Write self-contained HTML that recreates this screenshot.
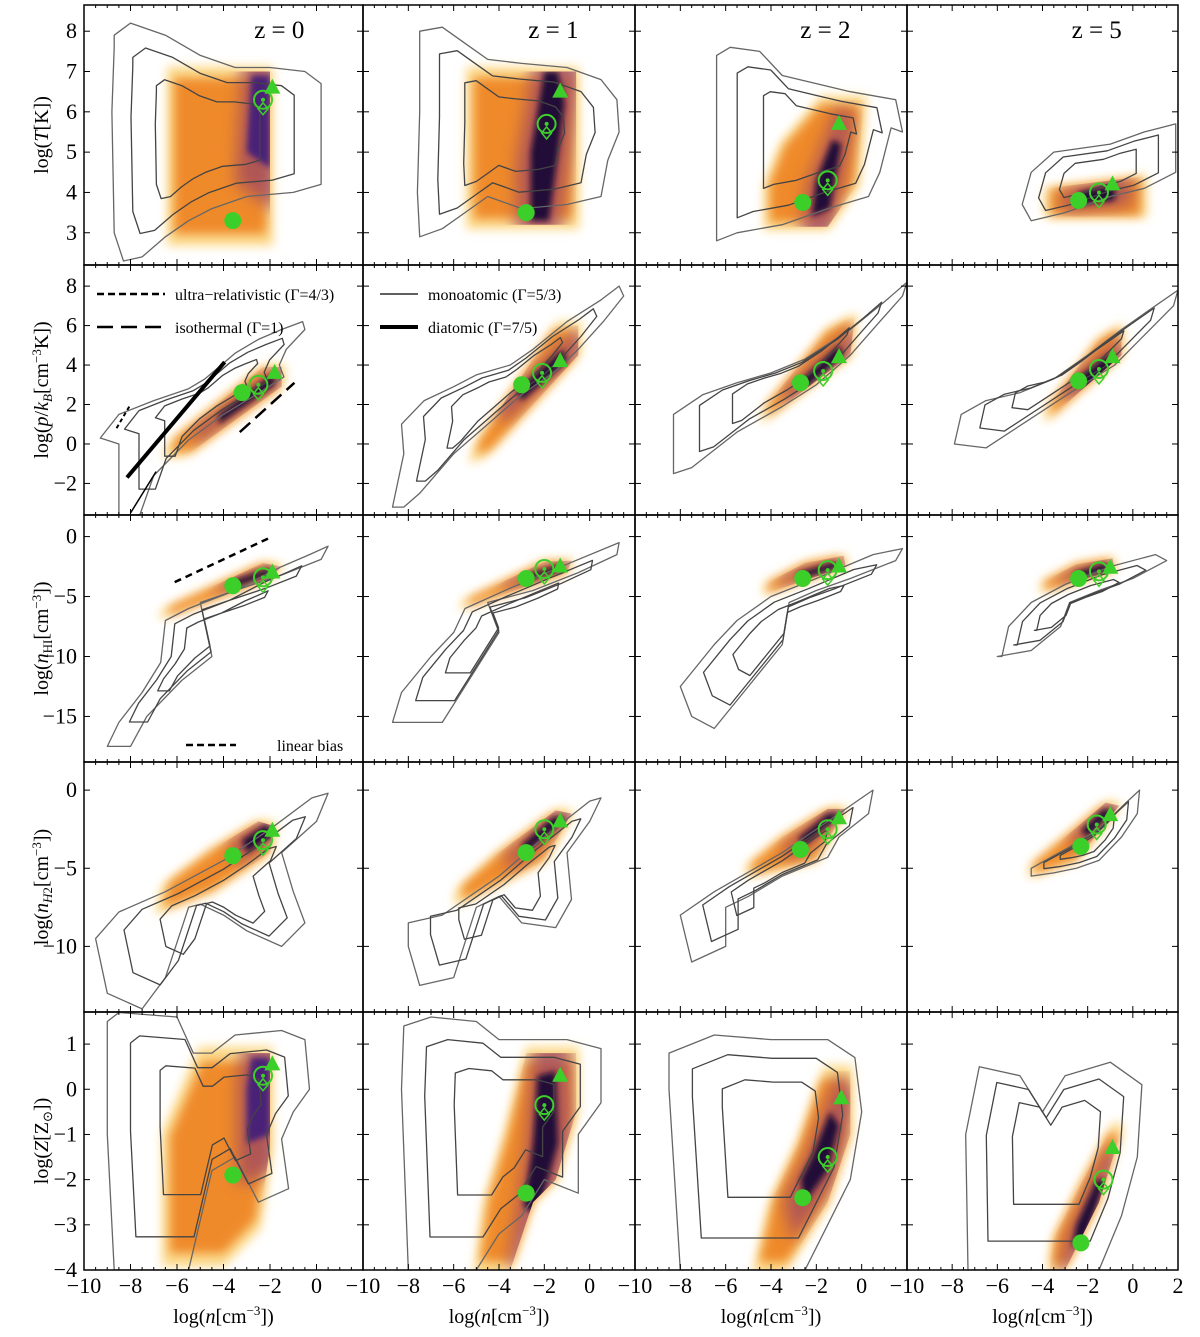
<!DOCTYPE html>
<html><head><meta charset="utf-8">
<style>
html,body{margin:0;padding:0;background:#fff;}
svg{display:block;font-family:"Liberation Serif",serif;}
</style></head>
<body>
<svg id="fig" width="1200" height="1337" viewBox="0 0 1200 1337" xmlns="http://www.w3.org/2000/svg">
<defs>
<filter id="b2" x="-30%" y="-30%" width="160%" height="160%"><feGaussianBlur stdDeviation="3"/></filter>
<filter id="b5" x="-30%" y="-30%" width="160%" height="160%"><feGaussianBlur stdDeviation="5"/></filter>
<filter id="b7" x="-50%" y="-50%" width="200%" height="200%"><feGaussianBlur stdDeviation="8"/></filter>
</defs>
<g id="layer"></g>
</svg>
<script>
// ---- axes ----
const colLeft=[84,363,635,907,1178];
const rowTop=[5,265,515,762,1012,1270];
const yTopVal=[8.65,9.07,1.8,1.8,1.71];
const yBotVal=[2.2,-3.6,-18.8,-14.2,-4];
const xMin=-10,xMax=2;
const yTicks=[[3,4,5,6,7,8],[-2,0,2,4,6,8],[0,-5,-10,-15],[0,-5,-10],[-4,-3,-2,-1,0,1]];
const xTicks=[-10,-8,-6,-4,-2,0,2];
const zLabels=["z = 0","z = 1","z = 2","z = 5"];
const yTitles=["log(<tspan font-style='italic'>T</tspan>[K])",
"log(<tspan font-style='italic'>p</tspan>/<tspan font-style='italic'>k</tspan><tspan font-size='13' dy='4'><tspan font-style='italic'>B</tspan></tspan><tspan dy='-4'>[cm</tspan><tspan font-size='13' dy='-7'>−3</tspan><tspan dy='7'>K])</tspan>",
"log(<tspan font-style='italic'>n</tspan><tspan font-size='13' dy='4'>HI</tspan><tspan dy='-4'>[cm</tspan><tspan font-size='13' dy='-7'>−3</tspan><tspan dy='7'>])</tspan>",
"log(<tspan font-style='italic'>n</tspan><tspan font-size='13' dy='4'><tspan font-style='italic'>H</tspan>2</tspan><tspan dy='-4'>[cm</tspan><tspan font-size='13' dy='-7'>−3</tspan><tspan dy='7'>])</tspan>",
"log(<tspan font-style='italic'>Z</tspan>[Z<tspan font-size='13' dy='4'>⊙</tspan><tspan dy='-4'>])</tspan>"];

// ---- contour data (outer level), per row/col, [x,y,...] ----
const contours=[
[[-8.7,7.9,-8,8.2,-6.5,7.9,-5,7.4,-3.5,7.1,-2,7.1,-0.5,7.0,0.2,6.7,0.2,4.2,-1,4.0,-3,3.9,-4.5,3.6,-5.5,3.3,-6.5,2.9,-7.5,2.4,-8.3,2.3,-8.7,3,-8.8,6,-8.7,7.6],
 [-7.5,8.0,-6.5,8.1,-5.5,7.7,-4.5,7.3,-3,7.2,-1,7.1,0.5,6.8,1.2,6.3,1.3,5.5,0.8,4.8,0.5,3.9,-1,3.7,-3,3.6,-4.5,3.9,-5.5,3.5,-6.5,3.1,-7.5,2.9,-7.6,4,-7.5,6],
 [-6.4,7.4,-5.8,7.6,-4.5,7.5,-3.5,6.9,-2,6.7,-0.5,6.5,1.5,6.3,1.8,5.5,1.3,5.6,0.8,4.5,0.3,3.9,-1.5,3.6,-3.5,3.2,-5.5,3.0,-6.4,2.8],
 [-4.9,3.7,-4.5,4.5,-3.5,5.0,-1,5.2,0.5,5.5,1.9,5.7,1.9,4.5,0.5,4.1,-1,3.9,-3,3.5,-4.5,3.3]],
[[-8.5,-3.6,-8.5,0,-9.3,0.3,-8.5,1.5,-7,2.2,-5.5,2.8,-4.8,3.3,-4,4.1,-3.5,4.6,-2.5,5.3,-1.5,5.8,-0.6,6.2,-0.5,5.8,-1.3,4.8,-1.6,4.0,-1.4,3.4,-2.6,2.5,-4,1.5,-5.5,0.2,-7,-1.6,-7.6,-3.6],
 [-8.7,-3.2,-8.2,-0.5,-8.3,1,-7.3,2.2,-6,2.9,-5,3.5,-3.5,4.0,-2.5,4.8,-1,6.2,0.5,7.3,1.3,8,1.5,7.5,0.6,6.2,-0.5,4.8,-1.5,3.7,-3,2.5,-4.5,1,-6,-0.5,-7.5,-2.5,-8.2,-3.2],
 [-8.3,-1.5,-8.3,1.5,-7,2.5,-5.5,3.1,-4,3.6,-2.5,4.3,-0.5,5.8,1,7.2,2,8.2,1.8,7.5,0.8,6.2,-0.5,4.5,-2,3,-3.5,1.9,-5.5,0.6,-7.5,-1.2],
 [-7.9,0,-7.6,1.5,-6.5,2.2,-5,2.6,-3.5,3.3,-2,4.5,-0.5,5.8,1,7,2,7.8,1.8,7,0.5,5.5,-0.8,4.0,-2.5,2.8,-4.5,1.3,-6.5,-0.2]],
[[-9,-17.5,-8.5,-15.5,-7.5,-13,-6.7,-10.5,-6.5,-7,-5.5,-6,-3.5,-4.5,-1.5,-2.5,-0.3,-1.5,0.5,-0.8,0.2,-1.9,-1.5,-3.2,-3.5,-4.5,-5,-5.5,-4.5,-10,-5.8,-12,-7.3,-15,-8,-17.5],
 [-8.7,-15.5,-8.3,-13,-7,-10,-6,-8,-5.5,-6,-3.5,-4.3,-1,-2.3,1.3,-0.5,1.2,-1.5,-0.5,-3,-2.5,-4.5,-4.5,-5.5,-4,-8,-5,-11,-6.5,-15.5],
 [-7.5,-15,-8,-12.5,-6.5,-9,-5.5,-7,-4,-5,-2,-3.5,0.5,-1.5,1.8,-1,1.5,-2,-0.5,-3.5,-2,-4.5,-3.2,-5.5,-3.5,-9,-5,-12.5,-6.5,-16],
 [-5.8,-10,-5.5,-7.5,-4.5,-5.5,-3,-4,-1,-2.5,1,-1.5,1.5,-2,0,-3.5,-1.5,-4.5,-2.8,-5.5,-3.2,-7.5,-4.5,-9.5,-6,-10]],
[[-6.5,-6.5,-4,-4.5,-2,-2.5,-0.2,-0.5,0.5,-0.2,0,-2,-1.5,-4,-1,-6.5,-0.5,-8.5,-1.5,-10,-3,-9,-4,-8,-5,-7.3,-5.5,-7.5,-6.5,-12,-7.5,-14,-9,-13,-9.5,-9.5,-8.5,-7.8],
 [-6.5,-8,-4,-5.5,-2,-3,0,-0.7,0.5,-0.5,0,-2,-1,-4,-0.8,-7,-1.5,-8.8,-3,-8.5,-4,-6.8,-5,-7.5,-6,-12,-7.5,-12.5,-8,-10,-8,-8.5],
 [-6.5,-6.5,-3.5,-4,-1.5,-2,0,-0.5,0.5,0,0.3,-1.5,-1,-3,-1.5,-4.3,-3.5,-5.5,-5,-6.8,-6,-7.5,-6,-10,-7.5,-11,-8,-8],
 [-4.5,-5,-3,-3.8,-1.5,-2.5,-0.3,-0.8,0.3,0,0.2,-1.5,-0.5,-3,-1.5,-4.5,-2.5,-5,-3.5,-5.3,-4.5,-5.5]],
[[-8.7,-4,-9,-1,-9,1.5,-8.5,1.7,-6,1.6,-5.3,0.8,-4.5,0.8,-3.5,1.2,-1.5,1.3,-0.5,1.1,-0.3,0,-1,-0.5,-1.5,-1.1,-1.2,-2.2,-2.5,-2.5,-3.5,-1.5,-4.5,-1.8,-5.5,-4,-8.2,-4],
 [-8,-4,-8.3,0,-8.2,1.4,-7,1.6,-5,1.5,-4,1.1,-3,1.1,-1,1.1,0.5,0.9,0.5,-0.3,-0.5,-1,-0.5,-2.3,-2,-2,-3,-2.8,-4,-3.2,-5,-4],
 [-8,-4,-8.5,0,-8.5,0.8,-6.5,1.2,-4,1.1,-1.5,1.1,-0.3,0.7,0,-0.5,-0.5,-2,-1.5,-3,-2.5,-4],
 [-7.3,-4,-7.4,-1,-6.8,0.5,-5,0.3,-4,-0.5,-3,0.3,-1,0.6,0.4,0.1,0.2,-1.5,-0.5,-2.8,-1.5,-4]]
];
// ---- density (heatmap) regions ----
const heatRegions=[
[[-6.3,2.8,-2.0,2.8,-2.0,7.0,-6.3,7.0],[-5.3,3.2,-0.6,3.2,-0.6,7.0,-5.3,7.0],[-4.2,3.15,-1.5,3.15,-0.2,4.2,0.1,6.3,-1.8,6.3,-3.5,5.2,-4.2,4.2],[-3.8,3.4,0.5,3.4,0.5,4.4,-3.8,4.1]],
[[-6.5,-0.6,-5.5,-0.5,-1.5,2.9,-1.5,3.9,-2.3,3.9,-6.2,0.2],[-5.2,-0.8,-4.5,-0.5,-0.5,4.5,-0.5,6.0,-1.5,6.0,-5,0],[-4.3,1.2,-0.5,4.5,-0.3,6.5,-1.5,5.8,-4.3,1.8],[-3.8,1.2,-0.5,4.5,-0.5,6,-1.5,5.3,-3.8,1.8]],
[[-6.6,-6.8,-2,-3.5,-1.5,-2.5,-2.3,-2.2,-6.5,-6],[-5.6,-6,-1,-3,-0.8,-2,-2,-2.1,-5.5,-5.3],[-4.3,-4.8,-0.7,-2.5,-0.8,-1.6,-2.5,-2.2,-4.2,-3.9],[-4,-4.6,-0.8,-2.8,-0.9,-1.8,-2.5,-2.3,-4,-3.8]],
[[-6.8,-7.8,-4.5,-6.5,-2,-4,-1.8,-2.3,-2.5,-2.0,-4.5,-3.8,-6.5,-6],[-5.8,-7.3,-2,-4.5,-0.8,-1.5,-1.5,-1.3,-4,-4,-5.8,-6.3],[-5,-5.5,-2,-4.5,-0.7,-1.2,-1.5,-1.2,-3.5,-3,-5,-4.8],[-4.5,-5.5,-2.5,-4.5,-0.6,-1,-1.2,-0.8,-3,-3,-4.5,-4.8]],
[[-6.5,-3.8,-4,-3.8,-2.5,-3,-2,-1.3,-2,0.8,-5,0.8,-6.5,-1],[-5,-4,-3.5,-4,-2.5,-2.5,-1.5,-2,-0.6,-0.5,-0.6,0.8,-2.8,0.8,-3.7,-1,-4.6,-2.5],[-4.7,-4,-3.4,-4,-1.5,-2.5,-0.5,-1,-0.5,0.4,-1.7,0.4,-2.8,-1.2,-4,-2.5],[-3.7,-4,-3,-4,-1.5,-2.5,-0.5,-0.9,-0.9,-0.8,-2.2,-2,-3.5,-3.3]]
];
const coreRegions=[
[[-3,5.0,-2.0,4.6,-2.0,6.9,-2.8,6.9],[-2.6,3.3,-1.8,3.3,-1.1,6.2,-1.4,7.0,-2.0,7.0,-2.6,5],[-2.2,3.4,-1.4,3.6,-0.9,5.2,-1.3,5.3,-2,4.3],[-2.4,3.7,-0.8,3.8,-0.8,4.2,-2.4,4.0]],
[[-4.2,1.0,-1.8,3.0,-1.8,3.6,-4.2,1.5],[-3,2.2,-1,4.2,-1.2,4.8,-3.2,2.7],[-2.5,2.8,-0.8,4.5,-1,5,-2.7,3.2],[-2.2,2.8,-0.8,4,-1,4.6,-2.5,3.3]],
[[-3.5,-4.2,-2,-3.2,-2,-2.6,-3.5,-3.6],[-3,-3.8,-1.2,-2.8,-1.3,-2.3,-3,-3.3],[-2.8,-3.6,-1,-2.6,-1.2,-2.1,-2.8,-3.0],[-2.5,-3.5,-1,-2.8,-1.2,-2.2,-2.6,-3.0]],
[[-3,-4,-1.8,-2.8,-2.2,-2.2,-3.2,-3.2],[-2.8,-4,-1,-1.8,-1.6,-1.7,-3,-3.5],[-2.5,-3.5,-0.9,-1.5,-1.5,-1.5,-2.8,-3.1],[-2,-3,-0.8,-1.3,-1.3,-1.2,-2.3,-2.6]],
[[-3,-1.2,-2,-1,-2,0.7,-2.8,0.7,-3,0],[-2.9,-2.6,-2.3,-2.8,-1.4,-1.2,-1.5,0.4,-2.3,0.3,-2.5,-1.2],[-2.5,-2.5,-1.5,-1.8,-1,-0.8,-1.4,-0.5,-2.2,-1.5,-2.7,-2],[-2.7,-3.5,-2.1,-3.3,-1.2,-2,-1.6,-2.0,-2.5,-3]]
];
// ---- marker positions [x,y] ----
const filledPts=[
[[-3.6,3.3],[-2.8,3.5],[-2.6,3.75],[-2.4,3.8]],
[[-3.2,2.6],[-3,3.0],[-2.7,3.1],[-2.4,3.2]],
[[-3.6,-4.1],[-2.8,-3.5],[-2.6,-3.5],[-2.4,-3.5]],
[[-3.6,-4.2],[-2.8,-4],[-2.7,-3.8],[-2.3,-3.6]],
[[-3.6,-1.9],[-2.8,-2.3],[-2.6,-2.4],[-2.3,-3.4]]];
const circPts=[
[[-2.3,6.3],[-1.9,5.7],[-1.5,4.3],[-1.5,4.0]],
[[-2.5,3.0],[-2.1,3.6],[-1.7,3.7],[-1.5,3.8]],
[[-2.3,-3.4],[-2,-2.7],[-1.5,-2.8],[-1.5,-2.9]],
[[-2.3,-3.2],[-2,-2.5],[-1.5,-2.5],[-1.6,-2.2]],
[[-2.3,0.3],[-2,-0.35],[-1.5,-1.5],[-1.3,-2]]];
const triPts=[
[[-1.9,6.6],[-1.3,6.5],[-1.0,5.7],[-0.9,4.2]],
[[-1.8,3.6],[-1.3,4.2],[-1.0,4.4],[-0.9,4.4]],
[[-1.9,-3.0],[-1.3,-2.5],[-1.0,-2.5],[-1.0,-2.6]],
[[-1.9,-2.6],[-1.3,-2.0],[-1.0,-1.8],[-1.0,-1.6]],
[[-1.9,0.55],[-1.3,0.3],[-0.9,-0.2],[-0.9,-1.3]]];

const NS="http://www.w3.org/2000/svg";
const layer=document.getElementById('layer');
function X(c,v){return colLeft[c]+(v-xMin)/(xMax-xMin)*(colLeft[c+1]-colLeft[c]);}
function Y(r,v){return rowTop[r]+(yTopVal[r]-v)/(yTopVal[r]-yBotVal[r])*(rowTop[r+1]-rowTop[r]);}
function mk(tag,attrs,parent){const e=document.createElementNS(NS,tag);for(const k in attrs)e.setAttribute(k,attrs[k]);(parent||layer).appendChild(e);return e;}
function pts(r,c,arr,sc){let cx=0,cy=0,n=arr.length/2;for(let i=0;i<arr.length;i+=2){cx+=arr[i];cy+=arr[i+1];}cx/=n;cy/=n;
 const out=[];for(let i=0;i<arr.length;i+=2){const x=cx+(arr[i]-cx)*sc,y=cy+(arr[i+1]-cy)*sc;out.push(X(c,x).toFixed(1)+','+Y(r,y).toFixed(1));}return out.join(' ');}

for(let r=0;r<5;r++){for(let c=0;c<4;c++){
 const g=mk('g',{});
 
 
 const clipId='cl'+r+c;
 const cp=mk('clipPath',{id:clipId},g);
 mk('rect',{x:colLeft[c],y:rowTop[r],width:colLeft[c+1]-colLeft[c],height:rowTop[r+1]-rowTop[r]},cp);
 const hcId='hc'+r+c;
 const hcp=mk('clipPath',{id:hcId},g);
 mk('polygon',{points:pts(r,c,heatRegions[r][c],1.0)},hcp);
 const inner=mk('g',{'clip-path':'url(#'+clipId+')'},g);
 const h1=mk('polygon',{points:pts(r,c,heatRegions[r][c],1.06),fill:'#fcd98a',filter:'url(#b5)'},inner);
 
 
 const h2=mk('polygon',{points:pts(r,c,heatRegions[r][c],0.92),fill:'#ef8a2c',filter:'url(#b5)'},inner);
 
 
 const hg=mk('g',{'clip-path':'url(#'+hcId+')'},inner);
 const h3=mk('polygon',{points:pts(r,c,coreRegions[r][c],1.9),fill:'#a04860',opacity:'0.8',filter:'url(#b7)'},hg);
 
 
 const h4=mk('polygon',{points:pts(r,c,coreRegions[r][c],1.0),fill:(r==0&&c==0)||(r==4&&c==0)?'#4a2278':'#230c38',filter:'url(#b2)'},hg);
 
 
 [1,0.78,0.5].forEach((s,i)=>{
  const p=mk('polygon',{points:pts(r,c,contours[r][c],s),fill:'none',stroke:i==0?'#666':'#444','stroke-width':'1.3','stroke-linejoin':'round'},inner);
  
  
 });
 const f=filledPts[r][c];
 const m1=mk('circle',{cx:X(c,f[0]),cy:Y(r,f[1]),r:8.5,fill:'#3ccf2a'},g);
 
 
 const t=triPts[r][c],tx=X(c,t[0]),ty=Y(r,t[1]);
 const m2=mk('polygon',{points:`${tx},${ty-9} ${tx-8},${ty+6} ${tx+8},${ty+6}`,fill:'#3ccf2a'},g);
 
 
 const o=circPts[r][c],ox=X(c,o[0]),oy=Y(r,o[1]);
 const m3=mk('circle',{cx:ox,cy:oy,r:9,fill:'none',stroke:'#3ccf2a','stroke-width':'2'},g);
 
 
 const m4=mk('circle',{cx:ox,cy:oy,r:2,fill:'#3ccf2a'},g);
 
 
 const m5=mk('polygon',{points:`${ox},${oy+3} ${ox+5},${oy+9} ${ox},${oy+15} ${ox-5},${oy+9}`,fill:'none',stroke:'#3ccf2a','stroke-width':'1.5'},g);
 
 
 const fr=mk('rect',{x:colLeft[c],y:rowTop[r],width:colLeft[c+1]-colLeft[c],height:rowTop[r+1]-rowTop[r],fill:'none',stroke:'#000','stroke-width':'1.5'},g);
 
 
 for(let v=-10;v<=2;v+=0.5){const x=X(c,v),len=(v%2==0)?6:3;
  mk('line',{x1:x,x2:x,y1:rowTop[r],y2:rowTop[r]+len,stroke:'#000','stroke-width':1},g);
  mk('line',{x1:x,x2:x,y1:rowTop[r+1],y2:rowTop[r+1]-len,stroke:'#000','stroke-width':1},g);}
 yTicks[r].forEach(v=>{const y=Y(r,v);
  mk('line',{x1:colLeft[c],x2:colLeft[c]+6,y1:y,y2:y,stroke:'#000'},g);
  mk('line',{x1:colLeft[c+1],x2:colLeft[c+1]-6,y1:y,y2:y,stroke:'#000'},g);});
}}
for(let r=0;r<5;r++){
 yTicks[r].forEach(v=>{const t=mk('text',{x:77,y:Y(r,v)+7,'text-anchor':'end','font-size':'22'});
  
  
  t.textContent=v<0?'−'+Math.abs(v):String(v);});
 const cy=(rowTop[r]+rowTop[r+1])/2;
 const tt=mk('text',{x:0,y:0,'text-anchor':'middle','font-size':'20',transform:`translate(48,${cy}) rotate(-90)`});
 
 
 tt.innerHTML=yTitles[r];
}
for(let c=0;c<4;c++){
 xTicks.forEach(v=>{ if(v==2&&c<3) return;
  const t=mk('text',{x:X(c,v),y:1293,'text-anchor':'middle','font-size':'22'});
  
  
  t.textContent=v<0?'−'+Math.abs(v):String(v);});
 const tt=mk('text',{x:X(c,-4),y:1323,'text-anchor':'middle','font-size':'20'});
 
 
 tt.innerHTML="log(<tspan font-style='italic'>n</tspan>[cm<tspan font-size='13' dy='-8'>−3</tspan><tspan dy='8'>])</tspan>";
 const z=mk('text',{x:X(c,-1.6),y:38,'text-anchor':'middle','font-size':'25'});
 
 
 z.textContent=zLabels[c];
}
function refLine(r,c,x1,y1,x2,y2,w,dash,name){const l=mk('line',{x1:X(c,x1),y1:Y(r,y1),x2:X(c,x2),y2:Y(r,y2),stroke:'#000','stroke-width':w,'stroke-dasharray':dash||'none'});
 
 }
refLine(1,0,-8.15,-1.7,-3.95,4.15,4,null,'diatomic-line');
refLine(1,0,-8,-3.5,-6.9,-1.4,1.5,null,'monoatomic-line');
refLine(1,0,-3.3,0.6,-0.95,3.1,2.5,'14,7','isothermal-line');
refLine(1,0,-8.6,0.8,-8.0,2.0,2,'4,3','ultra-relativistic-line');
refLine(2,0,-6.1,-3.8,-1.9,0.0,2.5,'7,5','linear-bias-line');
function legend(x1,x2,y,w,dash,tx,label,name){const l=mk('line',{x1:x1,x2:x2,y1:y,y2:y,stroke:'#000','stroke-width':w,'stroke-dasharray':dash||'none'});
 
 
 const t=mk('text',{x:tx,y:y+6,'font-size':'16'});
 
 
 t.textContent=label;}
legend(97,165,294,2.5,'7,4',175,'ultra−relativistic (Γ=4/3)','ultra-relativistic');
legend(97,165,327,2.5,'16,8',175,'isothermal (Γ=1)','isothermal');
legend(380,418,294,1.3,null,428,'monoatomic (Γ=5/3)','monoatomic');
legend(380,418,327,4,null,428,'diatomic (Γ=7/5)','diatomic');
legend(186,236,745,2.5,'7,4',277,'linear bias','linear-bias');
</script>
</body></html>
